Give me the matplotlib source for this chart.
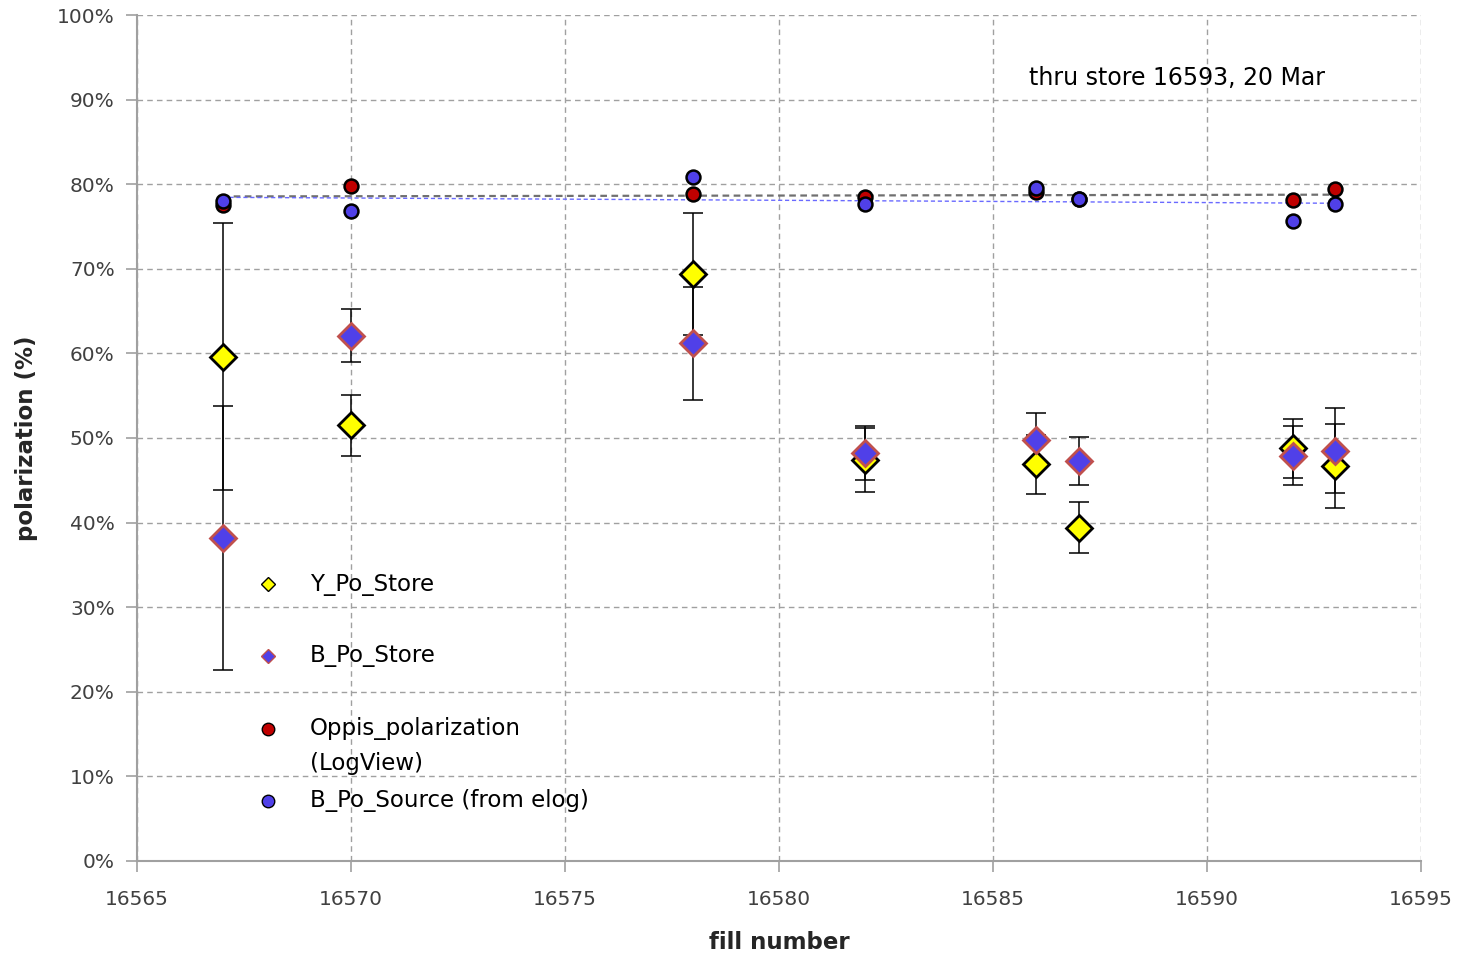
import numpy as np
import matplotlib
matplotlib.use("Agg")
import matplotlib.pyplot as plt

# fill numbers and polarization values (%)
fills = [16567, 16570, 16578, 16582, 16586, 16587, 16592, 16593]

y_store     = [59.6, 51.5, 69.4, 47.4, 46.9, 39.4, 48.8, 46.7]
y_store_err = [15.8, 3.6, 7.2, 3.8, 3.5, 3.0, 3.5, 5.0]
b_store     = [38.2, 62.1, 61.2, 48.2, 49.8, 47.3, 47.9, 48.5]
b_store_err = [15.6, 3.1, 6.7, 3.2, 3.1, 2.8, 3.5, 5.0]

oppis    = [77.5, 79.8, 78.8, 78.5, 79.1, 78.2, 78.1, 79.4]
b_source = [78.0, 76.8, 80.9, 77.7, 79.5, 78.2, 75.6, 77.7]

YELLOW = "#FFFF00"
BLUE   = "#5040E8"
RED    = "#C00000"
EDGE_B = "#C0504D"
GRID   = "#A0A0A0"

plt.rcParams.update({"font.family": "DejaVu Sans"})

fig = plt.figure(figsize=(14.63, 9.58), dpi=100)
ax = fig.add_axes([0.0936, 0.1013, 0.8777, 0.883])

x = np.array(fills)

# linear trend lines for the two source measurements
xs = np.array([fills[0], fills[-1]])
p_r = np.polyfit(x, oppis, 1)
p_b = np.polyfit(x, b_source, 1)
ax.plot(xs, np.polyval(p_r, xs), ls=(0, (3, 2)), color="#707070", lw=1.6, zorder=2)
ax.plot(xs, np.polyval(p_b, xs), ls=(0, (3, 2)), color="#6A6AFF", lw=1.0, zorder=2)

# error bars
ax.errorbar(x, y_store, yerr=y_store_err, fmt="none", ecolor="black",
            elinewidth=1.1, capsize=7, capthick=1.1, zorder=3)
ax.errorbar(x, b_store, yerr=b_store_err, fmt="none", ecolor="black",
            elinewidth=1.1, capsize=7, capthick=1.1, zorder=3)

ax.plot(x, y_store, ls="none", marker="D", ms=13, mfc=YELLOW, mec="black", mew=2, zorder=4)
ax.plot(x, b_store, ls="none", marker="D", ms=13, mfc=BLUE, mec=EDGE_B, mew=2, zorder=5)
ax.plot(x, oppis, ls="none", marker="o", ms=10, mfc=RED, mec="black", mew=1.8, zorder=6)
ax.plot(x, b_source, ls="none", marker="o", ms=10, mfc=BLUE, mec="black", mew=1.8, zorder=7)

ax.set_xlim(16565, 16595)
ax.set_ylim(0, 100)
ax.set_xticks(np.arange(16565, 16596, 5))
ax.set_yticks(np.arange(0, 101, 10))
ax.set_yticklabels([f"{v}%" for v in range(0, 101, 10)])
ax.tick_params(labelsize=14.5, colors="#404040", length=8, width=1.2, color=GRID)
ax.tick_params(axis="x", pad=13)
ax.tick_params(axis="y", pad=8)

ax.grid(True, ls=(0, (4, 3)), color=GRID, lw=1.0, zorder=0)
ax.set_axisbelow(True)
for s in ["top", "right"]:
    ax.spines[s].set_visible(False)
for s in ["left", "bottom"]:
    ax.spines[s].set_color(GRID)
    ax.spines[s].set_linewidth(1.5)

ax.set_xlabel("fill number", fontsize=16.5, fontweight="bold", color="#262626", labelpad=16)
ax.set_ylabel("polarization (%)", fontsize=16.5, fontweight="bold", color="#262626", labelpad=14)

ax.text(0.695, 0.925, "thru store 16593, 20 Mar", transform=ax.transAxes,
        fontsize=17, color="black", va="center", ha="left")

# legend drawn by hand to keep Excel-like spacing
kx, tx = 0.102, 0.1347
keys = [
    (0.3274, "D", 7.5, YELLOW, "black", 1.0, "Y_Po_Store"),
    (0.2423, "D", 7.5, BLUE, EDGE_B, 1.0, "B_Po_Store"),
    (0.1560, "o", 9, RED, "black", 1.0, "Oppis_polarization"),
    (0.0709, "o", 9, BLUE, "black", 1.0, "B_Po_Source (from elog)"),
]
for ky, m, ms, fc, ec, mw, lab in keys:
    ax.plot([kx], [ky], transform=ax.transAxes, marker=m, ms=ms, mfc=fc, mec=ec,
            mew=mw, ls="none", clip_on=False, zorder=8)
    ax.text(tx, ky, lab, transform=ax.transAxes, fontsize=16.5, va="center",
            ha="left", color="black")
ax.text(tx, 0.1147, "(LogView)", transform=ax.transAxes, fontsize=16.5,
        va="center", ha="left", color="black")

fig.savefig("out.png", dpi=100)
